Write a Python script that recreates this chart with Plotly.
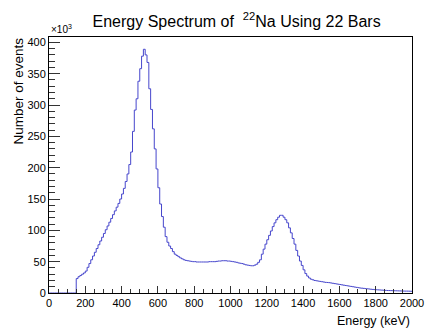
import numpy as np
import plotly.graph_objects as go

# ---- data (counts in thousands per 10 keV bin, 0..2000 keV) ----
BIN_WIDTH = 10
counts_k = [
    # 0-140
    0, 0, 0, 0, 0, 0, 0, 0, 0, 0, 0, 0, 0, 0, 0,
    # 150-290
    23, 26, 28, 30, 32, 35, 41, 47, 53, 59, 65, 71, 77, 83, 89,
    # 300-440
    95, 101, 107, 113, 119, 125, 131, 137, 143, 150, 158, 167, 178, 190, 205,
    # 450-590
    225, 258, 292, 310, 338, 358, 378, 389, 380, 368, 326, 293, 262, 230, 198,
    # 600-740
    168, 142, 122, 105, 90, 81, 75, 71, 66, 62, 60, 58, 56, 54.5, 53,
    # 750-890
    52, 51.5, 51, 50.5, 50, 50, 49.5, 49.5, 49.5, 49.5, 49.5, 49.5, 49.5, 50, 50,
    # 900-1040
    50, 50, 50.5, 51, 51, 51.5, 51.5, 51.5, 51, 51, 50.5, 50, 49.5, 49, 48,
    # 1050-1190
    47.5, 47, 46, 45, 44.5, 44, 43.5, 43.5, 44.5, 46, 49, 53, 62, 70, 78,
    # 1200-1340
    85, 92, 99, 106, 112, 117, 121, 124, 124, 121, 117, 112, 104, 96, 87,
    # 1350-1490
    78, 68, 59, 51, 44, 37, 31, 27, 24, 22, 21, 20, 19.5, 19, 18.5,
    # 1500-1640
    18, 17.5, 17, 16.8, 16.5, 16, 15.5, 15, 14.5, 14, 13.5, 13, 12.5, 12, 11.5,
    # 1650-1790
    11, 10.5, 10, 9.5, 9, 8.5, 8, 7.7, 7.4, 7, 6.7, 6.4, 6, 5.7, 5.4,
    # 1800-1940
    5.2, 5, 4.8, 4.6, 4.4, 4.2, 4, 3.9, 3.8, 3.7, 3.6, 3.5, 3.4, 3.3, 3.2,
    # 1950-1990
    3.1, 3.0, 3.0, 2.9, 2.8,
]
x_tick_vals = [0, 200, 400, 600, 800, 1000, 1200, 1400, 1600, 1800, 2000]
y_tick_vals = [0, 50, 100, 150, 200, 250, 300, 350, 400]

edges = [i * BIN_WIDTH for i in range(len(counts_k) + 1)]
ys = counts_k + [counts_k[-1]]

FONT = "Liberation Sans, Arial, Helvetica, sans-serif"

fig = go.Figure()
fig.add_trace(go.Scatter(
    x=edges, y=ys, mode="lines", line_shape="hv",
    line=dict(color="#4646cc", width=1), hoverinfo="skip", showlegend=False,
))

fig.update_layout(
    width=436, height=331,
    margin=dict(l=49, r=11.5, t=37, b=38.3),
    paper_bgcolor="white", plot_bgcolor="white",
    font=dict(family=FONT, color="black", size=11),
    title=dict(text="Energy Spectrum of  <sup>22</sup>Na Using 22 Bars",
               x=0.5427, xanchor="center", y=1 - 21 / 331, yanchor="middle",
               font=dict(size=16, family=FONT)),
    showlegend=False,
)
fig.update_xaxes(
    range=[0, 2000], tickvals=x_tick_vals, ticks="inside", ticklen=7,
    tickcolor="#333333", showgrid=False, zeroline=False,
    showline=True, linecolor="black", linewidth=1, mirror=True,
    minor=dict(dtick=50, tick0=0, ticks="inside", ticklen=4, tickcolor="#333333", showgrid=False),
    tickfont=dict(size=11), ticklabeloverflow="allow",
)
fig.update_yaxes(
    range=[0, 408.6], tickvals=y_tick_vals, ticks="inside", ticklen=11,
    tickcolor="#333333", showgrid=False, zeroline=False,
    showline=True, linecolor="black", linewidth=1, mirror=True,
    minor=dict(dtick=10, tick0=0, ticks="inside", ticklen=6, tickcolor="#333333", showgrid=False),
    tickfont=dict(size=11), ticklabeloverflow="allow",
)
fig.add_annotation(text="Energy (keV)", xref="paper", yref="paper",
                   x=1.0, xanchor="right", y=-(321 - 292.7) / 255.7, yanchor="middle",
                   showarrow=False, font=dict(size=12.5, family=FONT))
fig.add_annotation(text="Number of events", xref="paper", yref="paper",
                   x=-(49 - 17.5) / 375.5, xanchor="center", y=1.006, yanchor="top",
                   textangle=-90, showarrow=False, font=dict(size=13.5, family=FONT))
fig.add_annotation(text="×10<sup>3</sup>", xref="paper", yref="paper",
                   x=0.0, xanchor="left", y=1.0, yanchor="bottom",
                   showarrow=False, font=dict(size=10, family=FONT))

fig.write_html("out.html")
